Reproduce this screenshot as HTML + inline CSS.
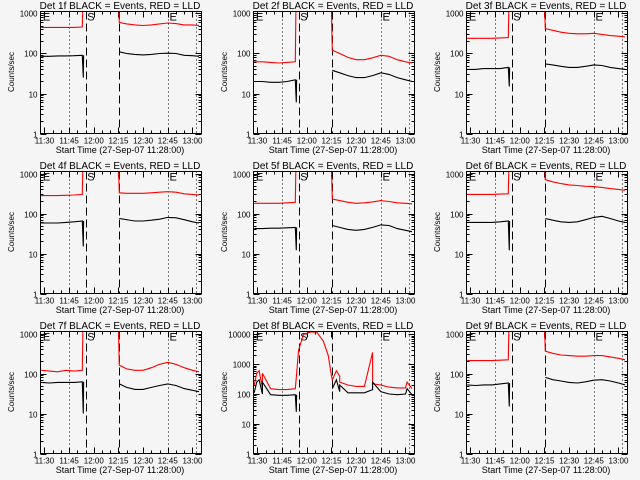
<!DOCTYPE html>
<html><head><meta charset="utf-8"><style>
html,body{margin:0;padding:0;background:#f5f5f5;}
svg{display:block;font-family:"Liberation Sans",sans-serif;}
</style></head><body>
<svg id="chart" width="640" height="480" xmlns="http://www.w3.org/2000/svg">
<rect width="640" height="480" fill="#f5f5f5"/>
</svg>
<script>
// Times in minutes after 11:00
const tPre = [28, 33, 38, 43, 48, 53];
const tPost = [75.5, 80, 85, 90, 95, 100, 105, 110, 115, 120, 124];
const tickLabels = ["11:30","11:45","12:00","12:15","12:30","12:45","13:00"];
const tickTimes = [30, 45, 60, 75, 90, 105, 120];
const titles = ["Det 1f","Det 2f","Det 3f","Det 4f","Det 5f","Det 6f","Det 7f","Det 8f","Det 9f"];
const blackPre = [
 [85,85,87,87,88,90],[20,20,19,19,20,22],[40,40,42,42,42,45],
 [58,58,58,60,62,65],[42,42,43,43,44,45],[60,60,60,60,62,65],
 [60,58,60,60,60,62],[110,100,95,90,90,95],[52,50,52,52,55,58]];
const blackDip = [25,6,15,15,12,12,10,25,15];
const redPre = [
 [450,450,450,450,450,460],[62,62,60,58,60,62],[240,240,240,240,245,250],
 [280,280,280,285,290,300],[180,180,180,180,185,190],[300,300,300,300,305,310],
 [120,115,110,120,115,120],[200,160,150,140,140,150],[210,210,210,210,215,220]];
const blackPost = [
 [110,100,95,92,95,100,102,100,90,88,85],[38,33,28,25,25,28,33,30,25,22,20],
 [55,52,48,45,45,48,52,50,45,42,40],[75,70,65,65,68,72,80,78,70,62,58],
 [50,45,40,38,40,45,52,50,42,38,35],[75,68,62,60,62,70,80,85,75,65,60],
 [55,45,40,40,45,50,55,50,42,38,35],[150,120,110,110,110,140,120,100,95,100,95],
 [80,70,65,60,58,62,68,70,65,58,52]];
const redPost = [
 [600,550,520,500,520,550,580,560,520,520,500],[120,100,80,70,70,78,90,85,70,62,58],
 [420,380,340,320,310,310,320,300,280,270,260],[330,320,320,320,330,340,350,340,310,300,290],
 [230,210,190,180,185,195,210,200,185,180,175],[700,620,560,520,500,480,470,450,420,400,380],
 [160,130,120,120,140,170,190,170,140,120,110],[300,250,200,180,180,220,200,170,160,160,150],
 [360,320,290,280,270,270,280,280,260,240,220]];
// panel 8 gap curve and spikes
const tGap8 = [53.5, 55, 58, 62, 66, 70, 73, 75];
const redGap8 = [300, 3000, 10000, 12000, 12000, 6000, 2000, 400];
const tSpike8 = [29.5, 31, 33, 78, 80, 100, 121];
const redSpike8 = [500, 600, 500, 600, 400, 2500, 250];
const blackSpike8 = [250, 300, 250, 300, 200, 250, 150];

const svg = document.getElementById('chart');
const NS = "http://www.w3.org/2000/svg";
function mk(tag, attrs, parent){const e=document.createElementNS(NS,tag);for(const k in attrs)e.setAttribute(k,attrs[k]);(parent||svg).appendChild(e);return e;}
const XMIN=27.57, XMAX=125.5;

for(let p=0;p<9;p++){
  const col=p%3,row=Math.floor(p/3);
  const ox=col*213, oy=row*160;
  const x0=ox+40.5,x1=ox+201.5,y0=oy+11.5,y1=oy+133.5;
  const topLog = p===7 ? 4.1 : 3.05;
  const xs=t=>x0+(t-XMIN)/(XMAX-XMIN)*(x1-x0);
  const ys=v=>y1-Math.log10(v)/topLog*(y1-y0);
  const g=mk('g',{});
  
  
  const cp=mk('clipPath',{id:'cp'+p},g);
  mk('rect',{x:x0,y:y0,width:x1-x0,height:y1-y0},cp);
  const title=mk('text',{x:ox+120,y:oy+9,'text-anchor':'middle','font-size':'10'},g);
  title.textContent=titles[p]+" BLACK = Events, RED = LLD";
  
  
  const yl=mk('text',{x:ox+14,y:oy+72,'text-anchor':'middle','font-size':'8',transform:`rotate(-90 ${ox+14} ${oy+72})`},g);
  yl.textContent="Counts/sec";
  
  
  const xl=mk('text',{x:ox+120,y:oy+153,'text-anchor':'middle','font-size':'9'},g);
  xl.textContent="Start Time (27-Sep-07 11:28:00)";
  
  
  const maxDec = p===7?4:3;
  for(let d=0;d<=maxDec;d++){
    const y=Math.round(ys(Math.pow(10,d)))+0.5;
    mk('line',{x1:x0,x2:x0+6,y1:y,y2:y,stroke:'#000','stroke-width':1},g);
    mk('line',{x1:x1-6,x2:x1,y1:y,y2:y,stroke:'#000','stroke-width':1},g);
    const lab=mk('text',{x:x0-3,y:y+3,'text-anchor':'end','font-size':'8'},g);
    lab.textContent=String(Math.pow(10,d));
    
    
    for(let m=2;m<10;m++){
      const v=m*Math.pow(10,d); if(Math.log10(v)>topLog) break;
      const yy=Math.round(ys(v))+0.5;
      mk('line',{x1:x0,x2:x0+3,y1:yy,y2:yy,stroke:'#000'},g);
      mk('line',{x1:x1-3,x2:x1,y1:yy,y2:yy,stroke:'#000'},g);
    }
  }
  for(let t=30;t<=125;t+=5){
    const x=Math.round(xs(t))+0.5,len=(t%15===0)?6:3;
    mk('line',{x1:x,x2:x,y1:y1,y2:y1-len,stroke:'#000'},g);
    mk('line',{x1:x,x2:x,y1:y0,y2:y0+len,stroke:'#000'},g);
  }
  tickTimes.forEach((t,i)=>{
    const lab=mk('text',{x:xs(t),y:y1+10,'text-anchor':'middle','font-size':'8'},g);
    lab.textContent=tickLabels[i];
    
    
  });
  [45,105,122].forEach(t=>{const x=Math.round(xs(t))+0.5;mk('line',{x1:x,x2:x,y1:y0,y2:y1,stroke:'#000','stroke-dasharray':'1,3'},g);});
  [55.5,75.6].forEach(t=>{const x=Math.round(xs(t))+0.5;mk('line',{x1:x,x2:x,y1:y0,y2:y1,stroke:'#000','stroke-dasharray':'8,4'},g);});
  [['E',xs(29)],['S',xs(56)],['E',xs(106)]].forEach(([s,x])=>{
    const tx=mk('text',{x:x,y:y0+9,'font-size':'11'},g);tx.textContent=s;
    
    
  });
  let bPts=[],rPts=[],bPts2=[];
  tPre.forEach((t,i)=>{bPts.push([t,blackPre[p][i]]);rPts.push([t,redPre[p][i]]);});
  if(p===7){
    tSpike8.forEach((t,i)=>{rPts.push([t,redSpike8[i]]);bPts.push([t,blackSpike8[i]]);});
    tGap8.forEach((t,i)=>rPts.push([t,redGap8[i]]));
  } else {
    rPts.push([53.5,3000]);rPts.push([74.8,3000]);
  }
  bPts.push([53.6,blackDip[p]]);bPts.push([53.8,blackPre[p][5]]);
  tPost.forEach((t,i)=>{rPts.push([t,redPost[p][i]]);bPts2.push([t,blackPost[p][i]]);});
  if(p===7){ tSpike8.forEach((t,i)=>{ if(t>75) bPts2.push([t,blackSpike8[i]]); }); bPts=bPts.filter(a=>a[0]<75); }
  const sortp=a=>a.sort((u,v)=>u[0]-v[0]);
  sortp(rPts);sortp(bPts);sortp(bPts2);
  const path=a=>a.map(([t,v])=>xs(t).toFixed(1)+','+ys(v).toFixed(1)).join(' ');
  const rl=mk('polyline',{points:path(rPts),fill:'none',stroke:'#ff0000','stroke-width':1.1,'clip-path':`url(#cp${p})`},g);
  
  
  const bl=mk('polyline',{points:path(bPts),fill:'none',stroke:'#000','stroke-width':1.1,'clip-path':`url(#cp${p})`},g);
  
  
  const bl2=mk('polyline',{points:path(bPts2),fill:'none',stroke:'#000','stroke-width':1.1,'clip-path':`url(#cp${p})`},g);
  
  
  mk('rect',{x:x0,y:y0,width:x1-x0,height:y1-y0,fill:'none',stroke:'#000','stroke-width':1},g);
}
</script>
</body></html>
